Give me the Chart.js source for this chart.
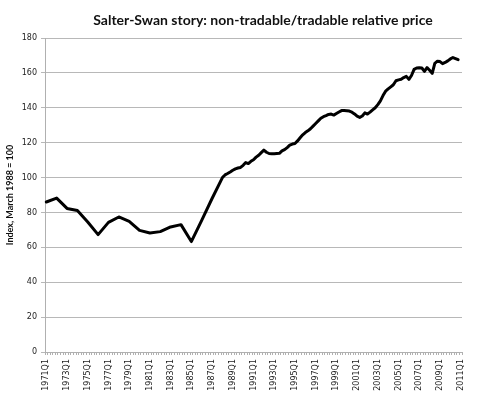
<!DOCTYPE html>
<html>
<head>
<meta charset="utf-8">
<script src="https://cdn.jsdelivr.net/npm/chart.js@4"></script>
<style>
  body { margin: 0; background: #fff; }
  canvas { display: block; }
</style>
</head>
<body>
<canvas id="myChart" width="500" height="397"></canvas>
<script>
let titleText = "Salter-Swan story: non-tradable/tradable relative price";
let yTitle = "Index, March 1988 = 100";

// 1971Q1 .. 2011Q1, one label every 8 quarters
let firstYear = 1971;
let lastYear = 2011;
let quarters = [];
for (let y = firstYear; y <= lastYear; y++) {
    for (let q = 1; q <= 4; q++) {
        if (y == lastYear && q > 1) break;
        quarters.push(y + "Q" + q);
    }
}
let tickLabels = ["1971Q1","1973Q1","1975Q1","1977Q1","1979Q1","1981Q1","1983Q1","1985Q1","1987Q1","1989Q1",
    "1991Q1","1993Q1","1995Q1","1997Q1","1999Q1","2001Q1","2003Q1","2005Q1","2007Q1","2009Q1","2011Q1"];

// annual (Q1) readings before 1988
let annualYears = [1971,1972,1973,1974,1975,1976,1977,1978,1979,1980,1981,1982,1983,1984,1985,1986,1987];
let annualValues = [86,88.2,82.3,81.1,74.5,67.3,74.3,77.4,74.9,69.7,68.2,69,71.7,73,63.3,75.5,88];

// quarterly readings 1988Q1 .. 2010Q4
let quarterlyStart = "1988Q1";
let quarterlyValues = [
    100,101.5,102.3,103.2,
    104.2,105,105.5,105.8,
    107,108.6,108,109.3,
    110.2,111.7,112.8,114.3,
    115.7,114.5,113.8,113.7,
    113.7,113.8,113.9,115.3,
    116,117.2,118.6,119.2,
    119.5,121,122.8,124.5,
    125.8,126.8,128,129.5,
    131,132.5,134,134.9,
    135.5,136.2,136.4,135.8,
    136.7,137.6,138.4,138.4,
    138.3,138.1,137.5,136.5,
    135.2,134.5,135.3,137.1,
    136.4,137.5,138.8,140,
    141.8,144,147,149.5,
    150.8,152,153.2,155.5,
    156,156.3,157.3,158,
    156.3,158.5,162,162.8,
    163,162.8,160.9,163,
    161.5,159.7,165.5,166.7,
    166.5,165.3,166,166.9,
    168,168.8,168.2,167.6
];

let yTicks = [0,20,40,60,80,100,120,140,160,180];

let series = quarters.map(() => null);
annualYears.forEach((yr, i) => {
    series[quarters.indexOf(yr + "Q1")] = annualValues[i];
});
let qStart = quarters.indexOf(quarterlyStart);
quarterlyValues.forEach((v, i) => {
    series[qStart + i] = v;
});

const titlePlugin = {
    id: 'ownTitle',
    afterDraw(chart) {
        let c = chart.ctx;
        c.save();
        c.font = "bold 14px Lato";
        c.fillStyle = "#111";
        c.textAlign = "center";
        c.textBaseline = "middle";
        c.fillText(titleText, 263, 20);
        c.restore();
    }
};

const ctx = document.getElementById('myChart');

new Chart(ctx, {
    type: 'line',
    data: {
        labels: quarters,
        datasets: [{
            label: 'relative price',
            data: series,
            borderColor: '#000',
            borderWidth: 3,
            pointRadius: 0,
            tension: 0,
            spanGaps: true,
            borderJoinStyle: 'round',
            borderCapStyle: 'round'
        }]
    },
    options: {
        responsive: false,
        animation: false,
        layout: { padding: { top: 38, right: 38, left: 0, bottom: 0 } },
        plugins: {
            legend: { display: false },
            title: { display: false },
            tooltip: { enabled: false }
        },
        scales: {
            x: {
                type: 'category',
                offset: true,
                afterFit(scale) { scale.height = 45; },
                grid: {
                    drawOnChartArea: false,
                    drawTicks: true,
                    tickLength: 3,
                    color: '#b0b0b0',
                    offset: true
                },
                border: { display: true, color: '#b0b0b0' },
                ticks: {
                    autoSkip: false,
                    maxRotation: 90,
                    minRotation: 90,
                    padding: 4,
                    color: '#222',
                    font: { family: 'DejaVu Sans', size: 8 },
                    callback: function (val, idx) {
                        let lab = this.getLabelForValue(val);
                        return tickLabels.includes(lab) ? lab : '';
                    }
                }
            },
            y: {
                min: 0,
                max: 180,
                afterFit(scale) { scale.width = 45; },
                afterBuildTicks(scale) { scale.ticks = yTicks.map(v => ({ value: v })); },
                grid: {
                    color: '#b8b8b8',
                    tickLength: 4,
                    drawTicks: true
                },
                border: { display: true, color: '#b0b0b0' },
                ticks: {
                    padding: 4,
                    color: '#222',
                    font: { family: 'DejaVu Sans', size: 8 }
                },
                title: {
                    display: true,
                    text: yTitle,
                    color: '#111',
                    font: { family: 'Lato', size: 9, weight: 'bold' },
                    padding: { top: 5, bottom: 0 }
                }
            }
        }
    },
    plugins: [titlePlugin]
});
</script>
</body>
</html>
